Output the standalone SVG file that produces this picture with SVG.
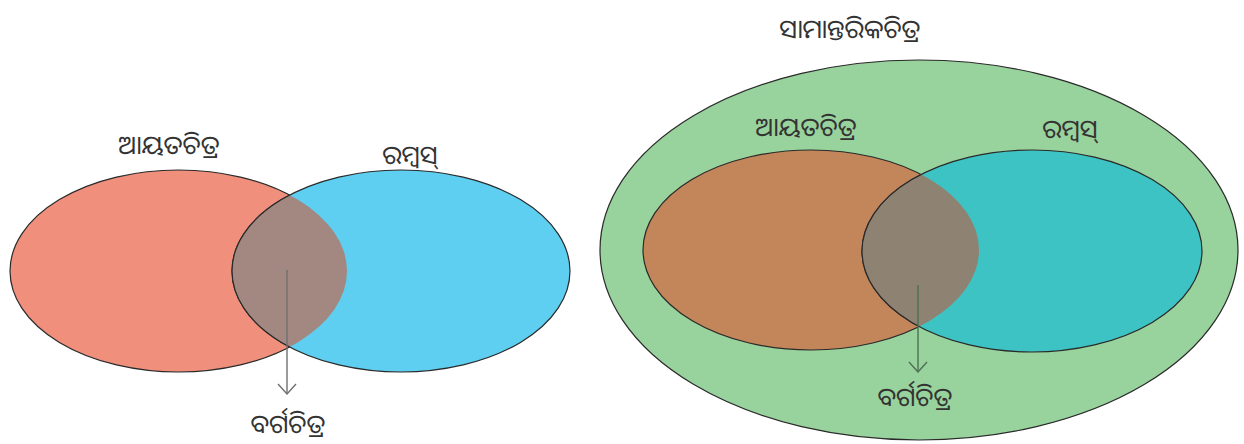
<svg xmlns="http://www.w3.org/2000/svg" width="1244" height="444" viewBox="0 0 1244 444">
<style>
.lbl{font-family:"Noto Sans Oriya","Noto Sans","DejaVu Sans",sans-serif;font-size:26px;fill:#333;text-anchor:middle}
.edge{stroke:#2a2a2a;stroke-width:1.2}
</style>
<defs>
<marker id="ahL" viewBox="0 0 12 20" refX="11" refY="10" markerWidth="12" markerHeight="20" markerUnits="userSpaceOnUse" orient="auto">
<path d="M1,1 L11,10 L1,19" fill="none" stroke="#707070" stroke-width="1.4"/>
</marker>
<marker id="ahR" viewBox="0 0 12 20" refX="11" refY="10" markerWidth="12" markerHeight="20" markerUnits="userSpaceOnUse" orient="auto">
<path d="M1,1 L11,10 L1,19" fill="none" stroke="#4E7055" stroke-width="1.4"/>
</marker>
<clipPath id="clipRedL"><ellipse cx="178.5" cy="271" rx="168.5" ry="101"/></clipPath>
<clipPath id="clipOrR"><ellipse cx="811" cy="250" rx="168" ry="100"/></clipPath>
</defs>
<rect width="1244" height="444" fill="#fff"/>

<g id="rect-left">
<ellipse class="edge" cx="178.5" cy="271" rx="168.5" ry="101" fill="#F0907C"/>
<text class="lbl" x="169" y="154">ଆୟତଚିତ୍ର</text>
</g>
<g id="rhombus-left">
<ellipse class="edge" cx="401" cy="271" rx="169" ry="101" fill="#5ECFF0"/>
<text class="lbl" x="410" y="164">ରମ୍ବସ୍</text>
</g>
<g id="square-left">
<ellipse class="edge" cx="401" cy="271" rx="169" ry="101" fill="#A28880" clip-path="url(#clipRedL)"/>
<text class="lbl" x="288" y="433">ବର୍ଗଚିତ୍ର</text>
</g>

<g id="parallelogram">
<ellipse class="edge" cx="919" cy="250" rx="319" ry="190" fill="#98D29C"/>
<text class="lbl" x="850" y="38">ସାମାନ୍ତରିକଚିତ୍ର</text>
</g>
<g id="rect-right">
<ellipse class="edge" cx="811" cy="250" rx="168" ry="100" fill="#C3855A"/>
<text class="lbl" x="806" y="136">ଆୟତଚିତ୍ର</text>
</g>
<g id="rhombus-right">
<ellipse class="edge" cx="1032" cy="251" rx="170" ry="101" fill="#3DC3C3"/>
<text class="lbl" x="1070" y="138">ରମ୍ବସ୍</text>
</g>
<g id="square-right">
<ellipse class="edge" cx="1032" cy="251" rx="170" ry="101" fill="#8E8372" clip-path="url(#clipOrR)"/>
<text class="lbl" x="915" y="406">ବର୍ଗଚିତ୍ର</text>
</g>

<g id="connectors" fill="none">
<line x1="287" y1="270" x2="287" y2="394" stroke="#707070" stroke-width="1.4" marker-end="url(#ahL)"/>
<line x1="918" y1="285" x2="918" y2="372" stroke="#4E7055" stroke-width="1.4" marker-end="url(#ahR)"/>
</g>
</svg>
